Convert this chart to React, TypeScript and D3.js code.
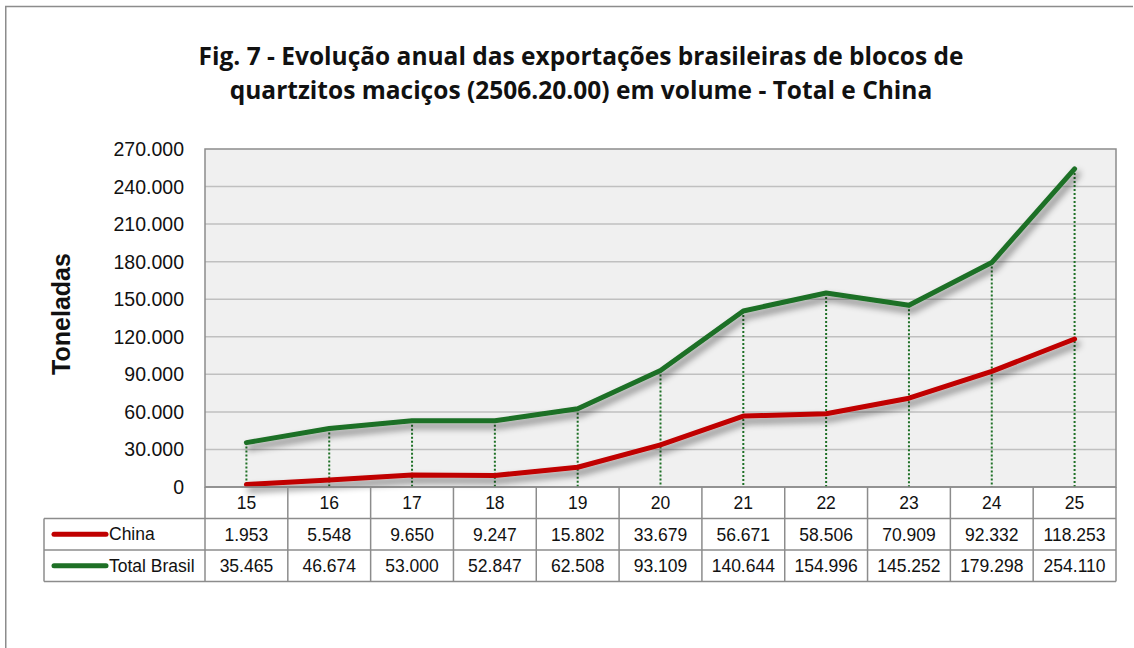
import React, { useEffect, useRef } from "react";
import * as d3 from "d3";

const years = ["15", "16", "17", "18", "19", "20", "21", "22", "23", "24", "25"];
const china = [1953, 5548, 9650, 9247, 15802, 33679, 56671, 58506, 70909, 92332, 118253];
const totalBrasil = [35465, 46674, 53000, 52847, 62508, 93109, 140644, 154996, 145252, 179298, 254110];
const yTicks = [0, 30000, 60000, 90000, 120000, 150000, 180000, 210000, 240000, 270000];
const seriesNames = ["China", "Total Brasil"];
const seriesColors = ["#c00000", "#1e7026"];

const fmt = (v: number) => d3.format(",")(v).replace(/,/g, ".");

export default function App() {
  const ref = useRef<SVGSVGElement>(null);

  useEffect(() => {
    const svg = d3.select(ref.current);
    svg.selectAll("*").remove();
    const W = 1134, H = 648;
    const left = 205, right = 1116, top = 149, bottom = 487;
    const rowH = 31.5;
    const tableLeft = 44;

    const x = d3.scaleBand().domain(years).range([left, right]);
    const y = d3.scaleLinear().domain([0, 270000]).range([bottom, top]);

    const defs = svg.append("defs");
    const f = defs.append("filter").attr("id", "shadow").attr("x", "-10%").attr("y", "-50%").attr("width", "120%").attr("height", "200%");
    f.append("feGaussianBlur").attr("in", "SourceAlpha").attr("stdDeviation", 3.5).attr("result", "b");
    f.append("feOffset").attr("in", "b").attr("dx", 3).attr("dy", 5).attr("result", "o");
    f.append("feComponentTransfer").attr("in", "o").attr("result", "s")
      .append("feFuncA").attr("type", "linear").attr("slope", 0.5);
    const m = f.append("feMerge");
    m.append("feMergeNode").attr("in", "s");
    m.append("feMergeNode").attr("in", "SourceGraphic");

    svg.append("rect").attr("x", 0).attr("y", 0).attr("width", W).attr("height", H).attr("fill", "#fff");
    svg.append("path").attr("d", `M5.75,${H}V6.5H${W - 1}`)
      .attr("fill", "none").attr("stroke", "#8c8c8c").attr("stroke-width", 1.5);

    // title
    const title = svg.append("text").attr("text-anchor", "middle")
      .attr("font-family", "'Open Sans', 'Noto Sans', sans-serif").attr("font-weight", "bold")
      .attr("font-size", 24.5).attr("fill", "#111");
    title.append("tspan").attr("x", 581).attr("y", 65).text("Fig. 7 - Evolução anual das exportações brasileiras de blocos de");
    title.append("tspan").attr("x", 581).attr("y", 99).text("quartzitos maciços (2506.20.00) em volume - Total e China");

    // plot area
    svg.append("rect").attr("x", left).attr("y", top).attr("width", right - left).attr("height", bottom - top)
      .attr("fill", "#f0f0f0");

    svg.append("g").selectAll("line").data(yTicks.filter(d => d > 0 && d < 270000)).join("line")
      .attr("x1", left).attr("x2", right).attr("y1", d => y(d)).attr("y2", d => y(d))
      .attr("stroke", "#c0c0c0").attr("stroke-width", 1.5);

    svg.append("rect").attr("x", left).attr("y", top).attr("width", right - left).attr("height", bottom - top)
      .attr("fill", "none").attr("stroke", "#8c8c8c").attr("stroke-width", 1.5);

    // y ticks
    svg.append("g").selectAll("text").data(yTicks).join("text")
      .attr("x", 184).attr("y", d => y(d) + 7).attr("text-anchor", "end")
      .attr("font-family", "'Liberation Sans', Arial, sans-serif").attr("font-size", 19.5).attr("fill", "#111")
      .text(d => fmt(d));

    svg.append("text").attr("transform", "translate(70,314) rotate(-90)").attr("text-anchor", "middle")
      .attr("font-family", "'Liberation Sans', Arial, sans-serif").attr("font-weight", "bold").attr("font-size", 25)
      .attr("fill", "#111").text("Toneladas");

    // drop lines
    const cx = (d: string) => (x(d) as number) + x.bandwidth() / 2;
    svg.append("g").selectAll("line").data(years).join("line")
      .attr("x1", d => cx(d)).attr("x2", d => cx(d))
      .attr("y1", (d, i) => y(totalBrasil[i])).attr("y2", bottom)
      .attr("stroke", "#1e7026").attr("stroke-width", 2).attr("stroke-dasharray", "2,2");

    // lines
    const line = d3.line<number>().x((d, i) => cx(years[i])).y(d => y(d));
    [china, totalBrasil].forEach((s, k) => {
      svg.append("path").datum(s).attr("d", line).attr("fill", "none")
        .attr("stroke", seriesColors[k]).attr("stroke-width", 5)
        .attr("stroke-linejoin", "round").attr("stroke-linecap", "round")
        .attr("filter", "url(#shadow)");
    });

    // data table
    const tg = svg.append("g");
    const tStroke = "#8c8c8c";
    const tableBottom = bottom + rowH * 3;
    tg.append("line").attr("x1", left).attr("x2", right).attr("y1", bottom).attr("y2", bottom)
      .attr("stroke", tStroke).attr("stroke-width", 1.5);
    [1, 2, 3].forEach(r => {
      tg.append("line").attr("x1", tableLeft).attr("x2", right)
        .attr("y1", bottom + rowH * r).attr("y2", bottom + rowH * r)
        .attr("stroke", tStroke).attr("stroke-width", 1.5);
    });
    tg.append("line").attr("x1", tableLeft).attr("x2", tableLeft).attr("y1", bottom + rowH).attr("y2", tableBottom)
      .attr("stroke", tStroke).attr("stroke-width", 1.5);
    tg.selectAll("line.v").data([...years.map(d => x(d) as number), right]).join("line")
      .attr("class", "v")
      .attr("x1", d => d).attr("x2", d => d).attr("y1", bottom).attr("y2", tableBottom)
      .attr("stroke", tStroke).attr("stroke-width", 1.5);

    const tf = "'Liberation Sans', Arial, sans-serif";
    tg.selectAll("text.h").data(years).join("text").attr("class", "h")
      .attr("x", d => cx(d)).attr("y", bottom + rowH / 2 + 6.5).attr("text-anchor", "middle")
      .attr("font-family", tf).attr("font-size", 17.5).attr("fill", "#111").text(d => d);

    [china, totalBrasil].forEach((s, k) => {
      const ry = bottom + rowH * (k + 1) + rowH / 2;
      tg.append("g").selectAll("text").data(s).join("text")
        .attr("x", (d, i) => cx(years[i])).attr("y", ry + 6.5).attr("text-anchor", "middle")
        .attr("font-family", tf).attr("font-size", 17.5).attr("fill", "#111").text(d => fmt(d));
      tg.append("line").attr("x1", 54).attr("x2", 106).attr("y1", ry).attr("y2", ry)
        .attr("stroke", seriesColors[k]).attr("stroke-width", 5).attr("stroke-linecap", "round");
      tg.append("text").attr("x", 109).attr("y", ry + 6).attr("font-family", tf).attr("font-size", 17.5)
        .attr("fill", "#111").text(seriesNames[k]);
    });
  }, []);

  return (
    <div style={{ position: "fixed", left: 0, top: 0 }}>
      <svg ref={ref} width={1134} height={648} style={{ display: "block" }} />
    </div>
  );
}
